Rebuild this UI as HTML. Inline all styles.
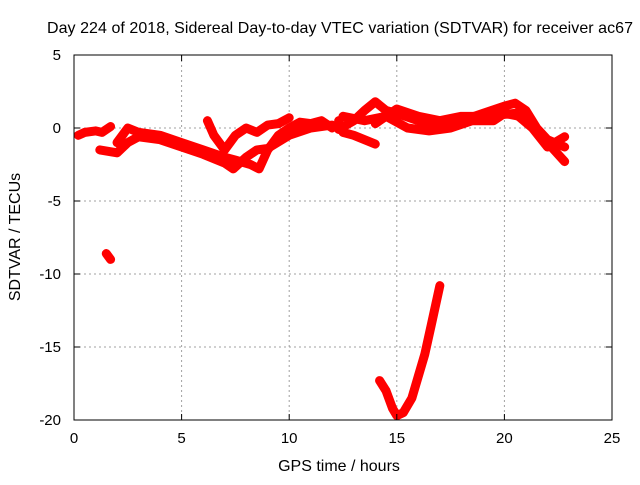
<!DOCTYPE html>
<html><head><meta charset="utf-8"><style>
body{margin:0;background:#fff;}
svg text{font-family:"Liberation Sans",sans-serif;font-size:15px;fill:#000;}
</style></head><body>
<svg id="chart" width="640" height="480">
<rect width="640" height="480" fill="#fff"/>
<g id="grid"></g>
<g id="series"></g>
<rect x="74" y="55" width="538" height="365" fill="none" stroke="#000" stroke-width="1"/>
<g id="ticks"></g>
<text x="340" y="33" text-anchor="middle" style="font-size:16px" textLength="586">Day 224 of 2018, Sidereal Day-to-day VTEC variation (SDTVAR) for receiver ac67</text>
<text x="339" y="471" text-anchor="middle" style="font-size:16px">GPS time / hours</text>
<text transform="translate(20,237) rotate(-90)" text-anchor="middle" style="font-size:16px">SDTVAR / TECUs</text>
</svg>
<script>
const xTicks=[0,5,10,15,20,25];
const yTicks=[5,0,-5,-10,-15,-20];
const trackA=[[0.2,-0.5],[0.5,-0.3],[1,-0.2],[1.3,-0.3],[1.7,0.1]];
const trackB=[[1.2,-1.5],[2,-1.7],[2.5,-1],[3,-0.6],[4,-0.8],[5,-1.3],[6,-1.8],[7,-2.4],[7.4,-2.8],[8,-2],[8.5,-1.5],[9,-1.4],[10,-0.5],[11,0],[12,0.2]];
const trackC=[[2,-1],[2.5,0],[3,-0.3],[4,-0.5],[5,-1],[6,-1.5],[7,-2],[7.5,-2.2],[8.2,-2.5],[8.6,-2.8],[9,-1.5],[9.5,-0.5],[10,0],[10.5,0.4],[11,0.3],[11.5,0.5],[12,0]];
const trackD=[[6.2,0.5],[6.5,-0.5],[7,-1.5],[7.5,-0.5],[8,0],[8.5,-0.3],[9,0.2],[9.5,0.3],[10,0.7]];
const trackE=[[12.3,0.5],[12.5,-0.3],[13,-0.5],[13.5,-0.8],[14,-1.1]];
const trackF=[[12.3,-0.1],[13,0.5],[13.5,1.2],[14,1.8],[14.5,1.2],[15,1],[16,0.5],[17,0],[18,0.5],[19,1],[20,1.5],[20.5,1.7],[21,1.2],[21.5,0],[22,-0.8],[22.8,-1.3]];
const trackG=[[12.5,0.8],[13.5,0.5],[14.5,0.8],[15.5,0],[16.5,-0.2],[17.5,0],[18.5,0.5],[19.5,0.5],[20,1],[20.7,0.8],[21,0.5],[21.5,-0.3],[22,-1],[22.8,-2.3]];
const trackH=[[14,0.3],[15,1.3],[16,0.8],[17,0.5],[18,0.8],[19,0.8],[20.5,1],[21.3,0],[22,-1.3],[22.8,-0.6]];
const trackI=[[1.5,-8.6],[1.7,-9]];
const trackJ=[[14.2,-17.3],[14.5,-18],[14.8,-19.2],[15,-19.7],[15.3,-19.5],[15.7,-18.5],[16,-17],[16.3,-15.5],[16.6,-13.5],[17,-10.8]];
const tracks=[trackA,trackB,trackC,trackD,trackE,trackF,trackG,trackH,trackI,trackJ];
const NS='http://www.w3.org/2000/svg';
const L=74,R=612,T=55,B=420;
const xs=v=>L+(v-0)/25*(R-L);
const ys=v=>T+(5-v)/25*(B-T);
const grid=document.getElementById('grid'),ticks=document.getElementById('ticks'),ser=document.getElementById('series');
function mk(t,a,p){const e=document.createElementNS(NS,t);for(const k in a)e.setAttribute(k,a[k]);p.appendChild(e);return e;}
xTicks.forEach(v=>{const x=xs(v);
 if(v>0&&v<25){const g=mk('line',{x1:x,x2:x,y1:T,y2:B,stroke:'#a0a0a0','stroke-dasharray':'2,3'},grid);
 }
 const t=mk('text',{x:x,y:443,'text-anchor':'middle'},ticks);t.textContent=v;
 
 mk('line',{x1:x,x2:x,y1:B,y2:B-6,stroke:'#000'},ticks);mk('line',{x1:x,x2:x,y1:T,y2:T+6,stroke:'#000'},ticks);});
yTicks.forEach(v=>{const y=ys(v);
 if(v<5&&v>-20){const g=mk('line',{x1:L,x2:R,y1:y,y2:y,stroke:'#a0a0a0','stroke-dasharray':'2,3'},grid);
 }
 const t=mk('text',{x:61,y:y+5,'text-anchor':'end'},ticks);t.textContent=v;
 
 mk('line',{x1:L,x2:L+6,y1:y,y2:y,stroke:'#000'},ticks);mk('line',{x1:R,x2:R-6,y1:y,y2:y,stroke:'#000'},ticks);});
tracks.forEach(tr=>{
 const p=mk('polyline',{points:tr.map(d=>xs(d[0])+','+ys(d[1])).join(' '),fill:'none',stroke:'#ff0000','stroke-width':9,'stroke-linejoin':'round','stroke-linecap':'round'},ser);
 
 
});
</script>
</body></html>
